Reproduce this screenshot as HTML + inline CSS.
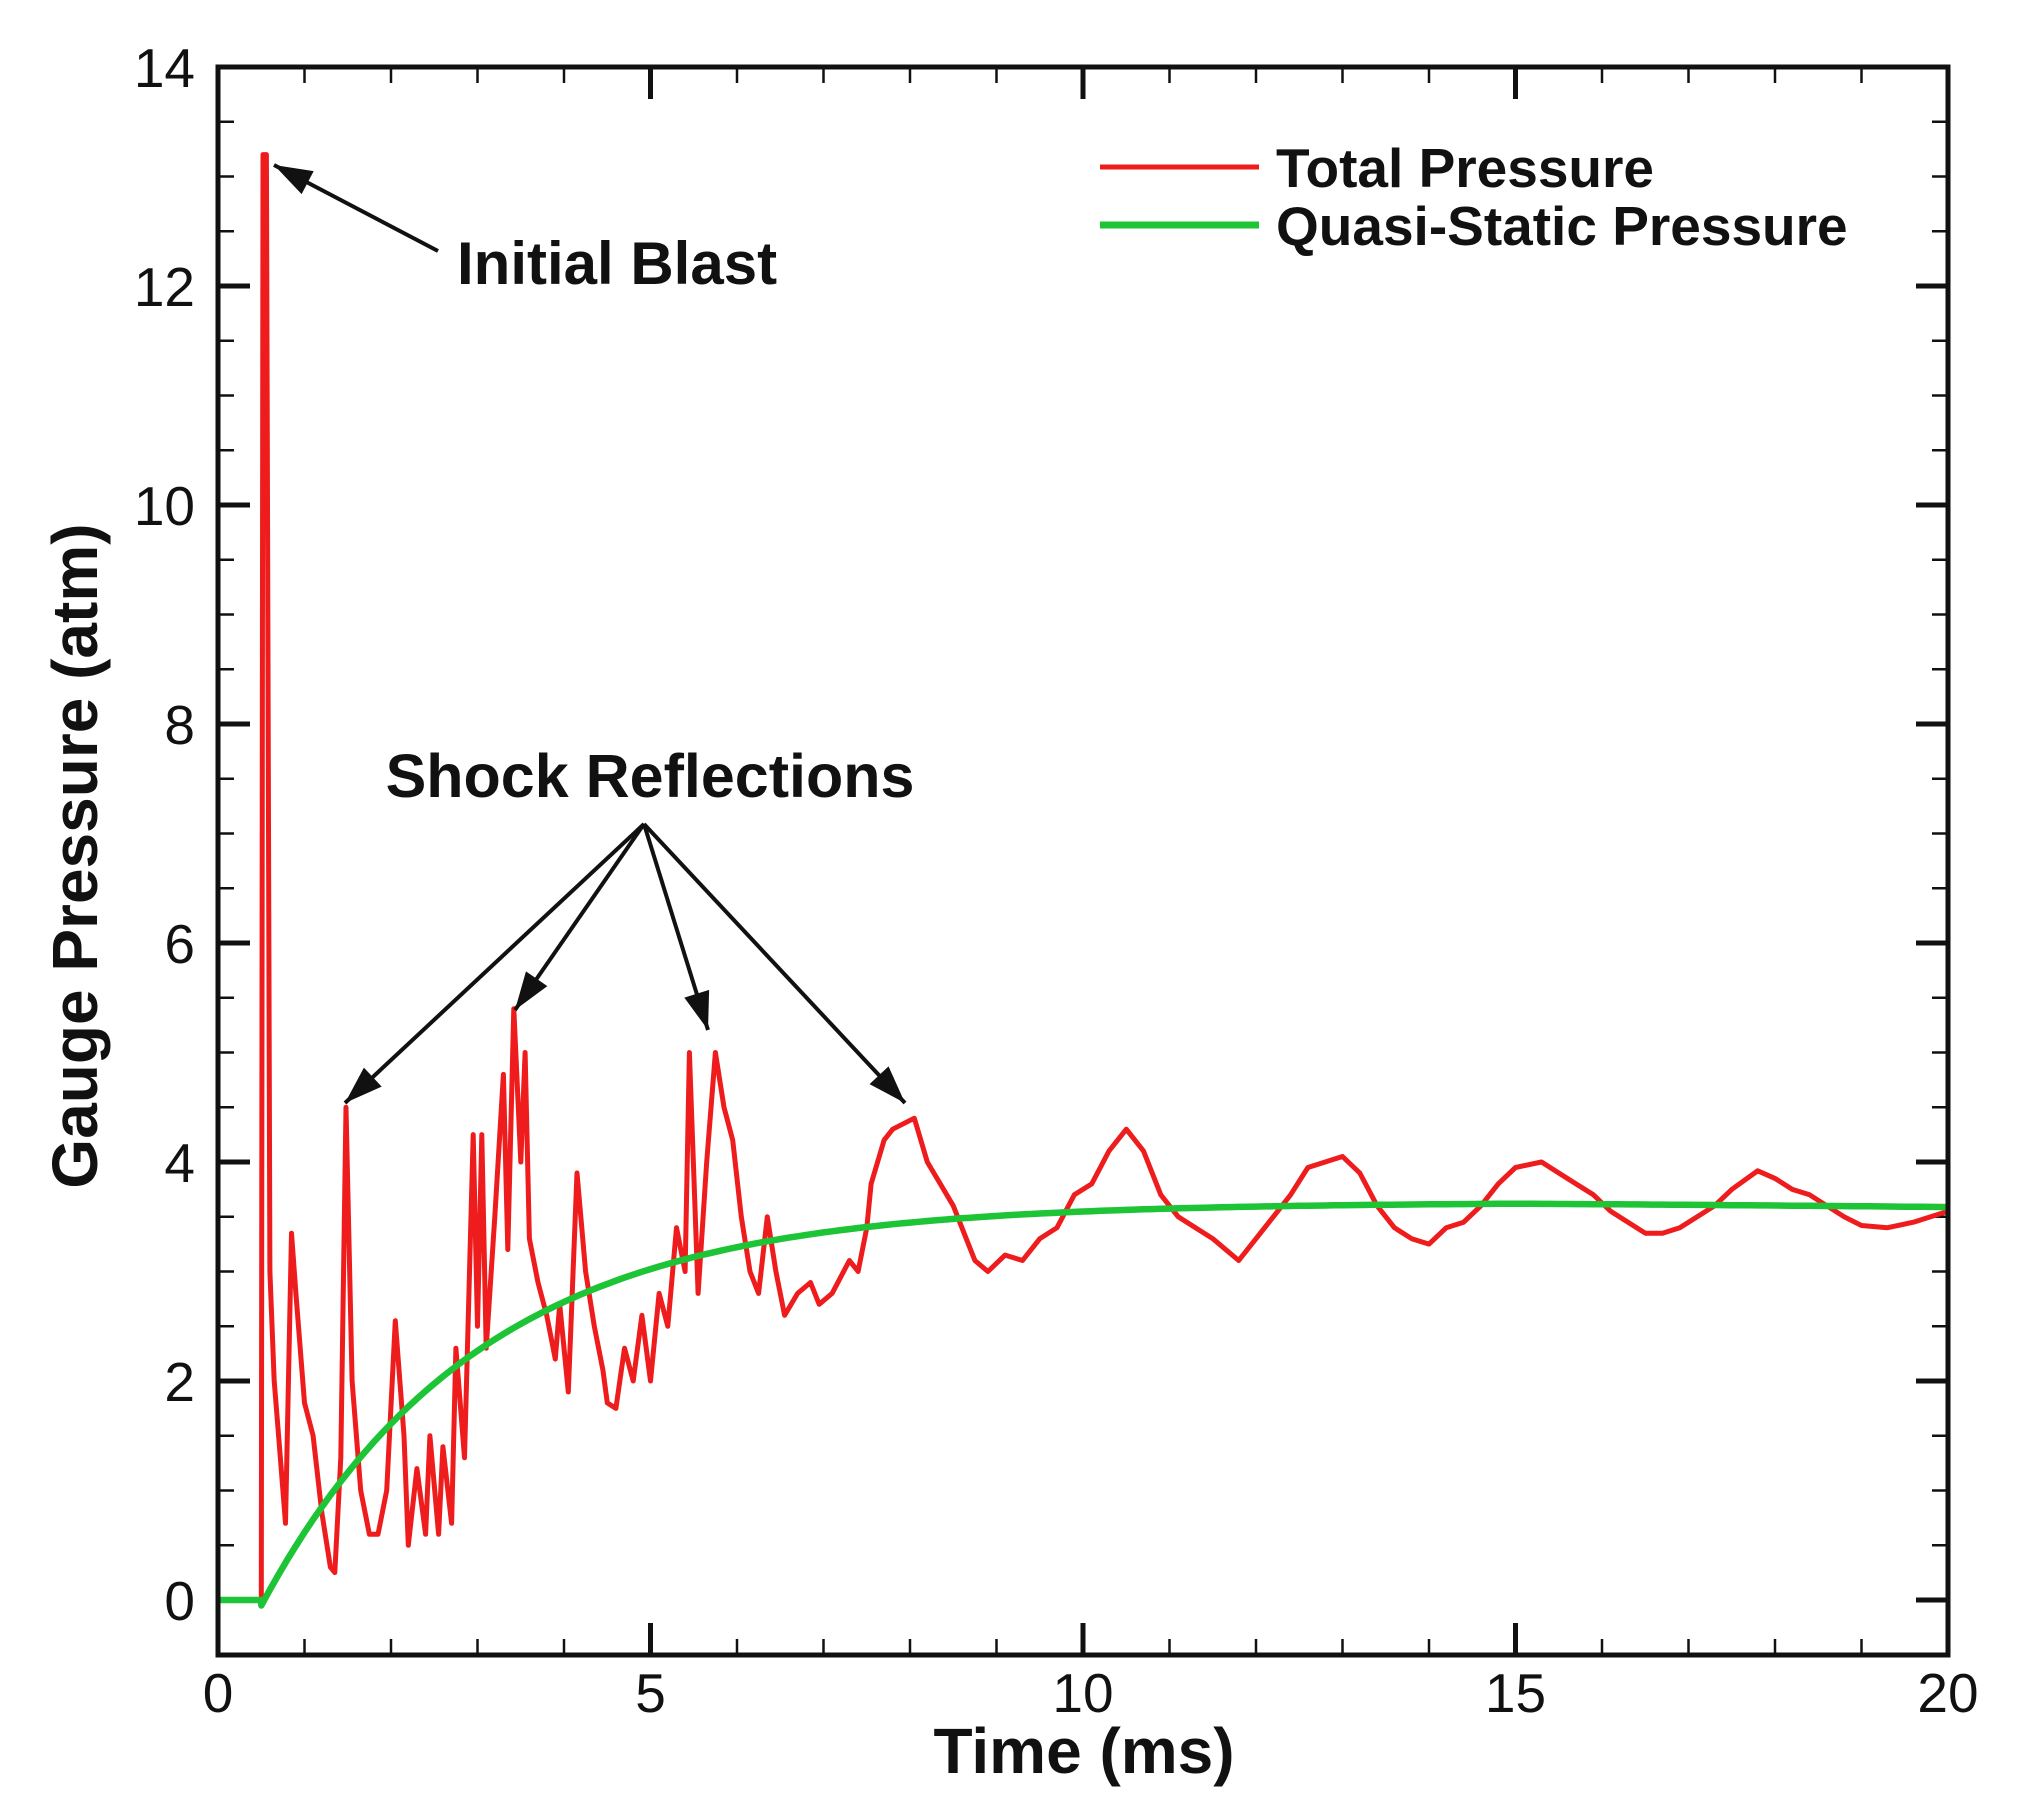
<!DOCTYPE html>
<html><head><meta charset="utf-8"><style>
html,body{margin:0;padding:0;background:#fff;}
svg{display:block;}
text{font-family:"Liberation Sans",Arial,sans-serif;fill:#111;}
</style></head><body>
<svg id="s" width="2018" height="1811" viewBox="0 0 2018 1811" xmlns="http://www.w3.org/2000/svg">
<g id="ticks"></g>
<path id="red" fill="none" stroke="#ee1c1c" stroke-width="5" stroke-linejoin="round"/>
<path id="green" fill="none" stroke="#1dc436" stroke-width="6.5" stroke-linejoin="round"/>
<rect x="218" y="67" width="1730" height="1588" fill="none" stroke="#111" stroke-width="5"/>
<g id="labels" font-size="55"></g>
<text x="1084" y="1773" font-size="64" font-weight="bold" text-anchor="middle">Time (ms)</text>
<text transform="translate(97,856) rotate(-90)" font-size="64" font-weight="bold" text-anchor="middle">Gauge Pressure (atm)</text>
<line x1="1100" y1="167" x2="1259" y2="167" stroke="#ee1c1c" stroke-width="5"/>
<line x1="1100" y1="225" x2="1259" y2="225" stroke="#1dc436" stroke-width="7"/>
<text x="1276" y="187" font-size="55" font-weight="bold">Total Pressure</text>
<text x="1276" y="245" font-size="55" font-weight="bold">Quasi-Static Pressure</text>
<text x="457" y="284" font-size="60" font-weight="bold">Initial Blast</text>
<text x="650" y="797" font-size="61" font-weight="bold" text-anchor="middle">Shock Reflections</text>
<g stroke="#111" stroke-width="4" fill="none">
<line x1="438" y1="251" x2="274" y2="165"/>
<line x1="644" y1="824" x2="345" y2="1103"/>
<line x1="644" y1="824" x2="515" y2="1010"/>
<line x1="644" y1="824" x2="708" y2="1030"/>
<line x1="644" y1="824" x2="905" y2="1103"/>
</g>
<g id="heads" fill="#111"></g>
</svg>
<script>
const X=t=>218+t*86.5, Y=p=>1600-p*109.5;
const ns="http://www.w3.org/2000/svg";
function el(tag,attrs,parent,txt){const e=document.createElementNS(ns,tag);for(const k in attrs)e.setAttribute(k,attrs[k]);if(txt!==undefined)e.textContent=txt;document.getElementById(parent).appendChild(e);return e;}
for(let t=0;t<=20;t++){const maj=t%5==0,L=maj?32:16,w=maj?5:2.5;
 el('line',{x1:X(t),y1:1655,x2:X(t),y2:1655-L,stroke:'#111','stroke-width':w},'ticks');
 el('line',{x1:X(t),y1:67,x2:X(t),y2:67+L,stroke:'#111','stroke-width':w},'ticks');
 if(maj) el('text',{x:X(t),y:1712,'text-anchor':'middle'},'labels',String(t));}
for(let k=-1;k<=28;k++){const p=k/2;const y=Y(p);if(y<67||y>1655)continue;const maj=k%4==0,L=maj?32:16,w=maj?5:2.5;
 el('line',{x1:218,y1:y,x2:218+L,y2:y,stroke:'#111','stroke-width':w},'ticks');
 el('line',{x1:1948,y1:y,x2:1948-L,y2:y,stroke:'#111','stroke-width':w},'ticks');
 if(maj&&p>=0) el('text',{x:195,y:y+20,'text-anchor':'end'},'labels',String(p));}
const red=[[0,0],[0.5,0],[0.52,13.2],[0.56,13.2],[0.6,3],[0.65,2],[0.7,1.5],[0.78,0.7],[0.85,3.35],[0.9,2.8],[1.0,1.8],[1.1,1.5],[1.2,0.8],[1.3,0.3],[1.35,0.25],[1.42,1.3],[1.48,4.5],[1.55,2],[1.65,1.0],[1.75,0.6],[1.85,0.6],[1.95,1.0],[2.05,2.55],[2.15,1.5],[2.2,0.5],[2.3,1.2],[2.4,0.6],[2.45,1.5],[2.55,0.6],[2.6,1.4],[2.7,0.7],[2.75,2.3],[2.85,1.3],[2.95,4.25],[3.0,2.5],[3.05,4.25],[3.1,2.3],[3.2,3.5],[3.3,4.8],[3.35,3.2],[3.42,5.4],[3.5,4.0],[3.55,5.0],[3.6,3.3],[3.7,2.9],[3.8,2.6],[3.9,2.2],[3.95,2.7],[4.05,1.9],[4.15,3.9],[4.25,3.0],[4.35,2.5],[4.45,2.1],[4.5,1.8],[4.6,1.75],[4.7,2.3],[4.8,2.0],[4.9,2.6],[5.0,2.0],[5.1,2.8],[5.2,2.5],[5.3,3.4],[5.4,3.0],[5.45,5.0],[5.55,2.8],[5.65,4.0],[5.75,5.0],[5.85,4.5],[5.95,4.2],[6.05,3.5],[6.15,3.0],[6.25,2.8],[6.35,3.5],[6.45,3.0],[6.55,2.6],[6.7,2.8],[6.85,2.9],[6.95,2.7],[7.1,2.8],[7.3,3.1],[7.4,3.0],[7.5,3.4],[7.55,3.8],[7.7,4.2],[7.8,4.3],[8.05,4.4],[8.2,4.0],[8.35,3.8],[8.5,3.6],[8.6,3.4],[8.75,3.1],[8.9,3.0],[9.1,3.15],[9.3,3.1],[9.5,3.3],[9.7,3.4],[9.9,3.7],[10.1,3.8],[10.3,4.1],[10.5,4.3],[10.7,4.1],[10.9,3.7],[11.1,3.5],[11.3,3.4],[11.5,3.3],[11.8,3.1],[12.0,3.3],[12.2,3.5],[12.4,3.7],[12.6,3.95],[12.8,4.0],[13.0,4.05],[13.2,3.9],[13.4,3.6],[13.6,3.4],[13.8,3.3],[14.0,3.25],[14.2,3.4],[14.4,3.45],[14.6,3.6],[14.8,3.8],[15.0,3.95],[15.3,4.0],[15.5,3.9],[15.7,3.8],[15.9,3.7],[16.1,3.55],[16.3,3.45],[16.5,3.35],[16.7,3.35],[16.9,3.4],[17.1,3.5],[17.3,3.6],[17.5,3.75],[17.8,3.92],[18.0,3.85],[18.2,3.75],[18.4,3.7],[18.6,3.6],[18.8,3.5],[19.0,3.42],[19.3,3.4],[19.6,3.45],[19.8,3.5],[20,3.55]];
document.getElementById('red').setAttribute('d','M'+red.map(p=>X(p[0]).toFixed(1)+','+Y(p[1]).toFixed(1)).join(' L'));
let g=[[0,0],[0.5,0]];for(let t=0.5;t<=20.001;t+=0.1){let p=-0.05+3.68*(1-Math.exp(-(t-0.5)/2.5));if(t>15)p-= (t-15)*0.008;g.push([t,p]);}
document.getElementById('green').setAttribute('d','M'+g.map(p=>X(p[0]).toFixed(1)+','+Y(p[1]).toFixed(1)).join(' L'));
function head(x1,y1,x2,y2){const a=Math.atan2(y2-y1,x2-x1),L=38,W=13;const bx=x2-L*Math.cos(a),by=y2-L*Math.sin(a);const px=-Math.sin(a)*W,py=Math.cos(a)*W;el('path',{d:`M${x2},${y2} L${bx+px},${by+py} L${bx-px},${by-py} Z`},'heads');}
head(438,251,274,165);head(644,824,345,1103);head(644,824,515,1010);head(644,824,708,1030);head(644,824,905,1103);
</script>
</body></html>
